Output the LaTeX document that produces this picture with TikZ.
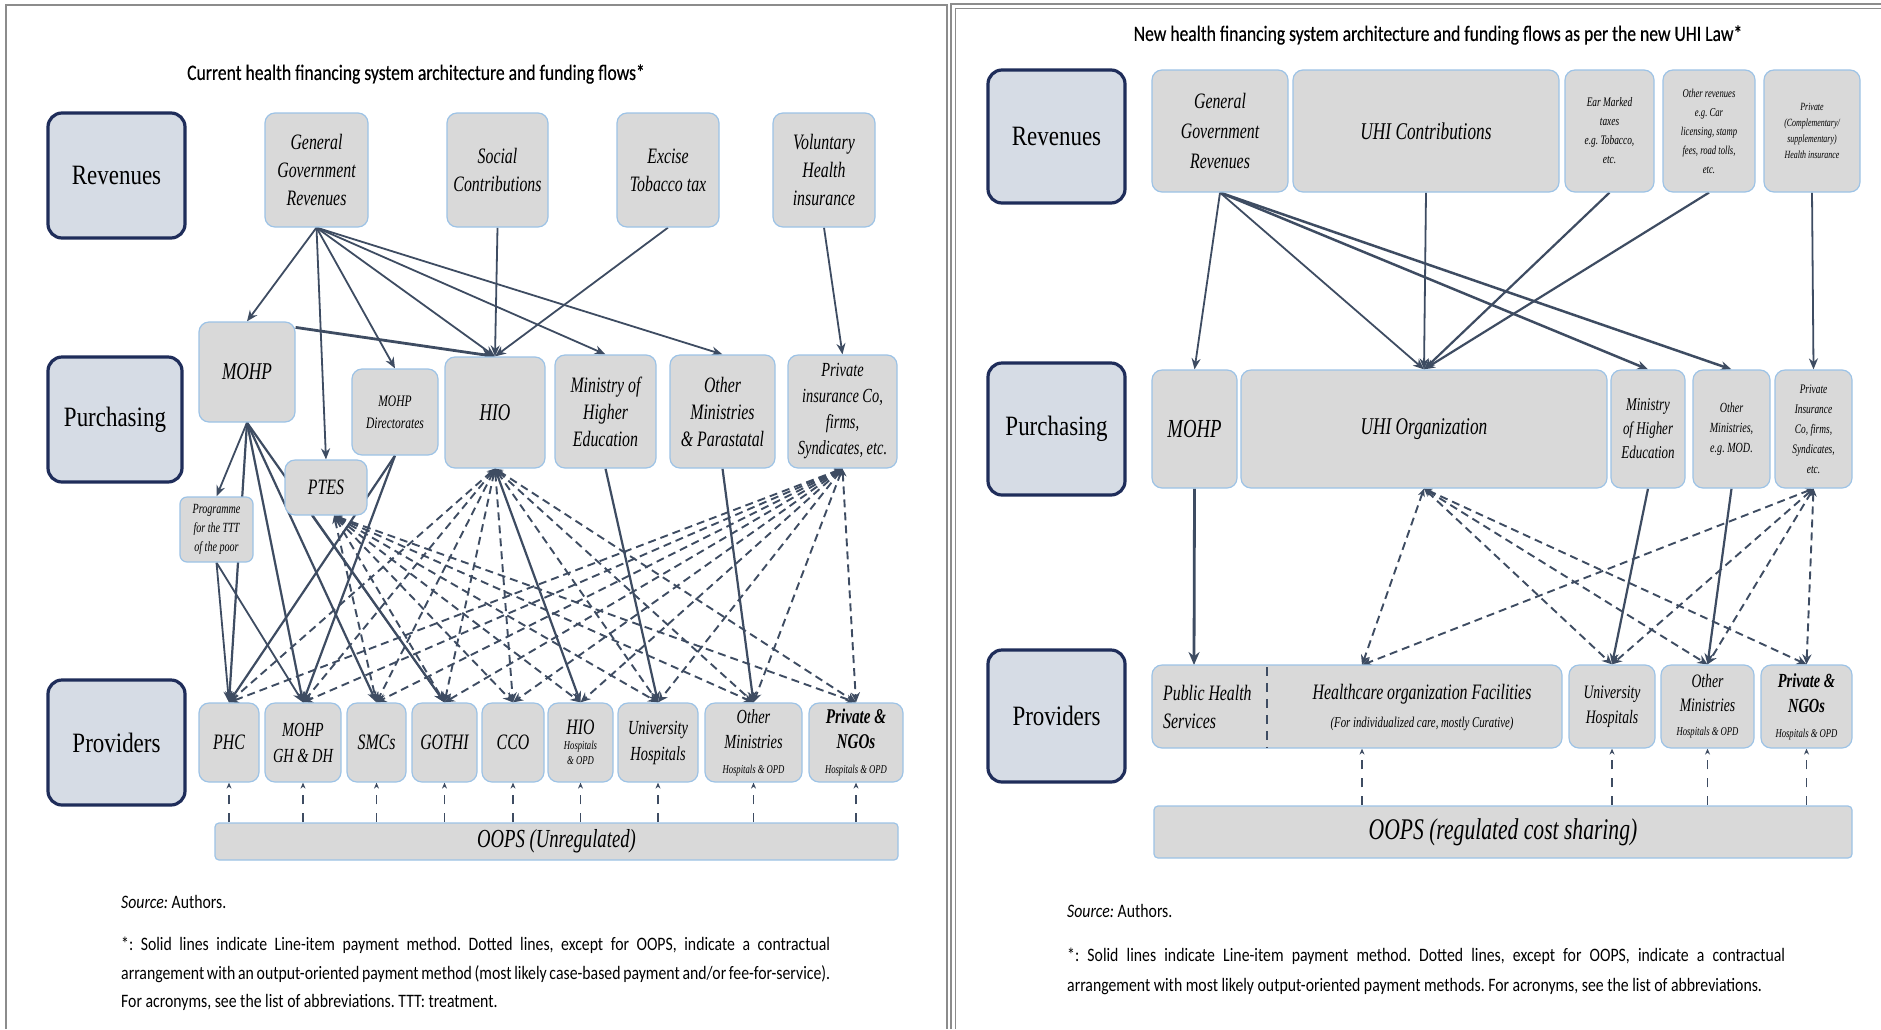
\documentclass[tikz,border=0pt]{standalone}
\usepackage{fontspec}
\setmainfont{Liberation Serif}
\newfontfamily\labf[FakeStretch=0.72]{Liberation Serif}
\newfontfamily\catf[FakeStretch=0.82]{Liberation Serif}
\newfontfamily\notef[FakeStretch=0.83]{Carlito}
\newfontfamily\ttlf[FakeStretch=0.8,FakeBold=0.4]{Carlito}
\usetikzlibrary{arrows.meta,calc}
\definecolor{navy}{HTML}{1F2D5A}
\definecolor{catfill}{HTML}{D6DCE5}
\definecolor{boxfill}{HTML}{D9D9D9}
\definecolor{boxline}{HTML}{9DC3E6}
\definecolor{arr}{HTML}{3E4C62}
\definecolor{framec}{HTML}{8C8C8C}
\newcommand\fz[2]{\fontsize{#1}{#2}\selectfont}
\newcommand\lf{\labf\itshape}
\frenchspacing
\pgfdeclarelayer{bg}
\pgfsetlayers{bg,main}
\begin{document}
\begin{tikzpicture}[x=1pt,y=-1pt,
 spanbox/.style n args={4}{minimum width={(#3)-(#1)}, minimum height={(#4)-(#2)}, at={({((#1)+(#3))/2},{((#2)+(#4))/2})}},
 cat/.style={draw=navy, line width=3.2pt, fill=catfill, rounded corners=14pt, inner sep=0pt, font=\catf\fz{28}{32}},
 bx/.style={draw=boxline, line width=1.2pt, fill=boxfill, rounded corners=10pt, inner sep=0pt, align=center, font=\lf\fz{22}{28}},
 oopsbox/.style={draw=boxline, line width=1.2pt, fill=boxfill, rounded corners=4pt, inner sep=0pt, font=\lf\fz{26}{30}},
 sol/.style={draw=arr, line width=1.8pt, -{Stealth[length=11pt,width=9pt]}},
 thk/.style={draw=arr, line width=2.8pt, -{Stealth[length=13pt,width=11pt]}},
 dsh/.style={draw=arr, line width=1.9pt, dash pattern=on 8pt off 5pt, {Stealth[length=8pt,width=7pt]}-{Stealth[length=10pt,width=9pt]}},
 oop/.style={draw=arr, line width=1.1pt, dash pattern=on 9pt off 9pt, -{Stealth[length=6pt,width=5pt]}},
 ttl/.style={font=\ttlf\fz{22}{26}, inner sep=0pt},
 note/.style={font=\notef\fz{19}{23}, inner sep=0pt, anchor=west},
 txt/.style={inner sep=0pt, font=\lf\fz{22}{28}}
]
\useasboundingbox (0,0) rectangle (1881,1029);
\begin{pgfonlayer}{bg}
\fill[white] (0,0) rectangle (1881,1029);
\draw[framec, line width=1.5pt] (6,1029) -- (6,5) -- (947,5) -- (947,1029);
\draw[framec, line width=1.5pt] (951,1029) -- (951,4) -- (1881,4);
\draw[framec, line width=1pt] (955,1029) -- (955,8) -- (1881,8);
\end{pgfonlayer}

% ================= LEFT PANEL =================
\node[ttl] (t1) at (416,74) {Current health financing system architecture and funding flows*};

\node[cat, spanbox={48}{113}{185}{238}] (rev) {Revenues};
\node[cat, spanbox={48}{357}{182}{482}] (pur) {Purchasing};
\node[cat, spanbox={48}{680}{185}{805}] (pro) {Providers};

\node[bx, spanbox={265}{113}{368}{227}] (ggr) {General\\Government\\Revenues};
\node[bx, spanbox={447}{113}{548}{227}] (soc) {Social\\Contributions};
\node[bx, spanbox={617}{113}{719}{227}] (exc) {Excise\\Tobacco tax};
\node[bx, spanbox={773}{113}{875}{227}] (vol) {Voluntary\\Health\\insurance};

\node[bx, spanbox={199}{322}{295}{422}, font=\lf\fz{24}{28}] (mohp) {MOHP};
\node[bx, spanbox={352}{369}{438}{455}, font=\lf\fz{16}{22}] (mdir) {MOHP\\Directorates};
\node[bx, spanbox={445}{357}{545}{468}, font=\lf\fz{24}{28}] (hio) {HIO};
\node[bx, spanbox={555}{355}{656}{468}, font=\lf\fz{22}{27}] (mohe) {Ministry of\\Higher\\Education};
\node[bx, spanbox={670}{355}{775}{468}, font=\lf\fz{22}{27}] (othm) {Other\\Ministries\\\& Parastatal};
\node[bx, spanbox={788}{355}{897}{468}, font=\lf\fz{20}{26}] (pins) {Private\\insurance Co,\\firms,\\Syndicates, etc.};
\node[bx, spanbox={285}{460}{367}{515}] (ptes) {PTES};
\node[bx, spanbox={180}{497}{253}{562}, font=\lf\fz{14}{19}, rounded corners=7pt] (prog) {Programme\\for the TTT\\of the poor};

\node[bx, spanbox={199}{703}{259}{782}] (phc) {PHC};
\node[bx, spanbox={265}{703}{341}{782}, font=\lf\fz{20}{26}] (mgh) {MOHP\\GH \& DH};
\node[bx, spanbox={347}{703}{406}{782}] (smc) {SMCs};
\node[bx, spanbox={412}{703}{477}{782}] (gothi) {GOTHI};
\node[bx, spanbox={482}{703}{544}{782}] (cco) {CCO};
\node[bx, spanbox={548}{703}{613}{782}, font=\lf\fz{12}{15}] (hioh) {{\fz{22}{24}HIO}\\Hospitals\\\& OPD};
\node[bx, spanbox={618}{703}{698}{782}, font=\lf\fz{20}{26}] (univ) {University\\Hospitals};
\node[bx, spanbox={705}{703}{802}{782}, font=\lf\fz{20}{25}] (othh) {Other\\Ministries\\{\fz{12}{14}Hospitals \& OPD}};
\node[bx, spanbox={809}{703}{903}{782}, font=\lf\fz{21}{25}] (pvt) {{\bfseries Private \&}\\{\bfseries NGOs}\\{\fz{12}{14}Hospitals \& OPD}};

\node[oopsbox, spanbox={215}{823}{898}{860}] (oops) {OOPS (Unregulated)};

\node[note] (s1) at (121,902) {\textit{Source:} Authors.};
\node[note] (n1) at (121,945) {\makebox[709pt][s]{*: Solid lines indicate Line-item payment method. Dotted lines, except for OOPS, indicate a contractual}};
\node[note] (n2) at (121,974) {\makebox[709pt][s]{arrangement with an output-oriented payment method (most likely case-based payment and/or fee-for-service).}};
\node[note] (n3) at (121,1002) {For acronyms, see the list of abbreviations. TTT: treatment.};

\begin{pgfonlayer}{bg}
% revenues -> purchasing
\foreach \t in {mohp,ptes,mdir,hio,mohe,othm} \draw[sol] (ggr.south) -- (\t.north);
\draw[sol] (soc.south) -- (hio.north);
\draw[sol] (exc.south) -- (hio.north);
\draw[sol] (vol.south) -- (pins.north);
\draw[thk] ([yshift=-6pt]mohp.north east) -- (hio.north);
% purchasing -> providers (solid)
\draw[sol] (mohp.south) -- (prog.north);
\foreach \t in {phc,mgh,smc,gothi} \draw[sol, line width=2.2pt] (mohp.south) -- (\t.north);
\foreach \t in {phc,mgh} \draw[sol] (prog.south) -- (\t.north);
\foreach \t in {phc,mgh} \draw[sol, line width=2.2pt] (mdir.south) -- (\t.north);
\draw[sol] ([xshift=-14pt]ptes.south) -- (gothi.north);
\draw[sol, line width=2.2pt] (hio.south) -- (hioh.north);
\draw[sol, line width=2.2pt] (mohe.south) -- (univ.north);
\draw[sol, line width=2.2pt] (othm.south) -- (othh.north);
% purchasing -> providers (dashed)
\foreach \t in {phc,mgh,smc,gothi,cco,univ,othh,pvt} \draw[dsh] (hio.south) -- (\t.north);
\foreach \t in {phc,mgh,smc,gothi,cco,hioh,univ,othh,pvt} \draw[dsh] (pins.south) -- (\t.north);
\foreach \t in {smc,gothi,cco,hioh,univ,othh,pvt} \draw[dsh] ([xshift=8pt]ptes.south) -- (\t.north);
% OOPS
\foreach \t in {phc,mgh,smc,gothi,cco,hioh,univ,othh,pvt} \draw[oop] (\t.south |- oops.north) -- (\t.south);
\end{pgfonlayer}

% ================= RIGHT PANEL =================
\node[ttl] (t2) at (1438,35) {New health financing system architecture and funding flows as per the new UHI Law*};

\node[cat, spanbox={988}{70}{1125}{203}] (rev2) {Revenues};
\node[cat, spanbox={988}{363}{1125}{495}] (pur2) {Purchasing};
\node[cat, spanbox={988}{650}{1125}{782}] (pro2) {Providers};

\node[bx, spanbox={1152}{70}{1288}{192}, font=\lf\fz{22}{30}] (ggr2) {General\\Government\\Revenues};
\node[bx, spanbox={1293}{70}{1559}{192}, font=\lf\fz{24}{28}] (uhic) {UHI Contributions};
\node[bx, spanbox={1565}{70}{1654}{192}, font=\lf\fz{13}{19}] (ear) {Ear Marked\\taxes\\e.g. Tobacco,\\etc.};
\node[bx, spanbox={1663}{70}{1755}{192}, font=\lf\fz{12}{19}] (othr) {Other revenues\\e.g. Car\\licensing, stamp\\fees, road tolls,\\etc.};
\node[bx, spanbox={1764}{70}{1860}{192}, font=\lf\fz{11}{16}] (prv) {Private\\(Complementary/\\supplementary)\\Health insurance};

\node[bx, spanbox={1152}{370}{1237}{488}, font=\lf\fz{26}{30}] (mohp2) {MOHP};
\node[bx, spanbox={1241}{370}{1607}{488}, font=\lf\fz{24}{28}] (uhio) {UHI Organization};
\node[bx, spanbox={1611}{370}{1685}{488}, font=\lf\fz{18}{24}] (mohe2) {Ministry\\of Higher\\Education};
\node[bx, spanbox={1693}{370}{1770}{488}, font=\lf\fz{14}{20}] (othm2) {Other\\Ministries,\\e.g. MOD.};
\node[bx, spanbox={1775}{370}{1852}{488}, font=\lf\fz{13}{20}] (pins2) {Private\\Insurance\\Co, firms,\\Syndicates,\\etc.};

\node[bx, spanbox={1152}{665}{1562}{748}] (hcf) {};
\node[txt, anchor=west, align=left] (phs) at (1163,707) {Public Health\\Services};
\node[txt, align=center] (hcft) at (1422,707) {Healthcare organization Facilities\\{\fz{15}{20}(For individualized care, mostly Curative)}};
\coordinate (phstop) at (1194,665);
\coordinate (hcftop) at (1362,665);
\node[bx, spanbox={1569}{665}{1655}{748}, font=\lf\fz{19}{25}] (univ2) {University\\Hospitals};
\node[bx, spanbox={1661}{665}{1754}{748}, font=\lf\fz{19}{24}] (othh2) {Other\\Ministries\\{\fz{12}{14}Hospitals \& OPD}};
\node[bx, spanbox={1761}{665}{1852}{748}, font=\lf\fz{20}{25}] (pvt2) {{\bfseries Private \&}\\{\bfseries NGOs}\\{\fz{12}{14}Hospitals \& OPD}};

\node[oopsbox, spanbox={1154}{806}{1852}{858}, font=\lf\fz{30}{34}] (oops2) {OOPS (regulated cost sharing)};

\node[note] (s2) at (1067,911) {\textit{Source:} Authors.};
\node[note] (m1) at (1067,956) {\makebox[718pt][s]{*: Solid lines indicate Line-item payment method. Dotted lines, except for OOPS, indicate a contractual}};
\node[note] (m2) at (1067,987) {arrangement with most likely output-oriented payment methods. For acronyms, see the list of abbreviations.};

\draw[arr, line width=1.2pt, dash pattern=on 9pt off 7pt] (1267,667) -- (1267,748);

\begin{pgfonlayer}{bg}
\draw[sol] (ggr2.south) -- (mohp2.north);
\draw[sol] (ggr2.south) -- (uhio.north);
\draw[sol, line width=2.5pt] (ggr2.south) -- (mohe2.north);
\draw[sol, line width=2.5pt] (ggr2.south) -- (othm2.north);
\draw[sol] (uhic.south) -- (uhio.north);
\draw[sol, line width=2.2pt] (ear.south) -- (uhio.north);
\draw[sol, line width=2.2pt] (othr.south) -- (uhio.north);
\draw[sol] (prv.south) -- (pins2.north);
\draw[thk] (mohp2.south) -- (phstop);
\draw[sol, line width=2.2pt] (mohe2.south) -- (univ2.north);
\draw[sol, line width=2.2pt] (othm2.south) -- (othh2.north);
\draw[dsh] (uhio.south) -- (hcftop);
\foreach \t in {univ2,othh2,pvt2} \draw[dsh] (uhio.south) -- (\t.north);
\draw[dsh] (pins2.south) -- (hcftop);
\foreach \t in {univ2,othh2,pvt2} \draw[dsh] (pins2.south) -- (\t.north);
\draw[oop] (hcftop |- oops2.north) -- (hcftop |- hcf.south);
\foreach \t in {univ2,othh2,pvt2} \draw[oop] (\t.south |- oops2.north) -- (\t.south);
\end{pgfonlayer}
\end{tikzpicture}
\end{document}
